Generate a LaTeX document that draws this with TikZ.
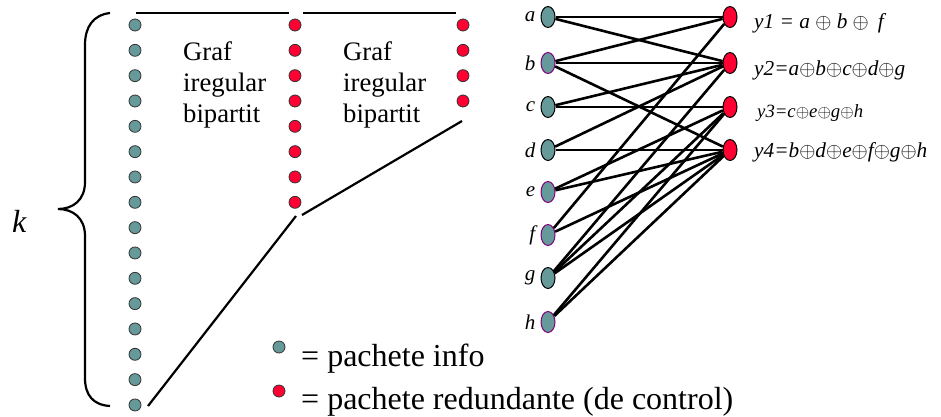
\documentclass[tikz,border=0pt]{standalone}
\usepackage{fontspec}
\setmainfont{Liberation Serif}
\usetikzlibrary{shapes.geometric,positioning}
\definecolor{tealdot}{HTML}{669999}
\definecolor{reddot}{HTML}{FF0033}
\definecolor{purp}{HTML}{800080}
\begin{document}
\begin{tikzpicture}[x=1pt,y=-1pt,
  info/.style={circle,draw=black!80,fill=tealdot,line width=0.8pt,minimum size=12pt,inner sep=0pt},
  redund/.style={circle,draw=black!80,fill=reddot,line width=0.8pt,minimum size=12pt,inner sep=0pt},
  tnode/.style={ellipse,fill=tealdot,draw=black,line width=1pt,minimum width=14pt,minimum height=21pt,inner sep=0pt},
  pnode/.style={tnode,draw=purp},
  rnode/.style={ellipse,fill=reddot,draw=black,line width=1pt,minimum width=14pt,minimum height=21pt,inner sep=0pt},
  lbl/.style={font=\fontsize{21}{24}\selectfont\itshape,inner sep=0pt},
  eqn/.style={font=\fontsize{21.3}{24}\selectfont\itshape,inner sep=0pt,anchor=base west},
  edge/.style={line width=2.6pt},
  thin line/.style={line width=2.2pt},
  graftext/.style={font=\fontsize{26.7}{31}\selectfont,align=left,anchor=base west,inner sep=0pt}
]
\useasboundingbox (0,0) rectangle (941,416);

% left column of info packets
\foreach \i in {0,...,15} \node[info] (L\i) at (135,{25+25.33*\i}) {};
% first redundant column
\foreach \i in {0,...,7} \node[redund] (M\i) at (295,{25+25.33*\i}) {};
% second redundant column
\foreach \i in {0,...,3} \node[redund] (R\i) at (463,{25+25.33*\i}) {};

% top lines
\coordinate (t1a) at (136,12.7); \coordinate (t1b) at (289,12.7);
\coordinate (t2a) at (303,12.7); \coordinate (t2b) at (456,12.7);
\draw[thin line] (t1a) -- (t1b);
\draw[thin line] (t2a) -- (t2b);
% slanted lines
\coordinate (s1a) at (462,121); \coordinate (s1b) at (302,215);
\coordinate (s2a) at (296,216); \coordinate (s2b) at (148,406);
\draw[thin line] (s1a) -- (s1b);
\draw[thin line] (s2a) -- (s2b);

% texts
\node[graftext] (g1) at (183,122) {Graf\\iregular\\bipartit};
\node[graftext] (g2) at (343,122) {Graf\\iregular\\bipartit};

% brace
\draw[line width=2.2pt] (110,13) .. controls (93,15) and (85,27) .. (85,45) -- (85,182)
  .. controls (85,200) and (73,209) .. (58,209)
  .. controls (73,209) and (85,218) .. (85,236) -- (85,378)
  .. controls (85,395) and (93,405) .. (110,406);
\node[font=\fontsize{32}{36}\selectfont\itshape,anchor=base west,inner sep=0pt] (k) at (12,232) {k};

% legend
\node[info] (leg1) at (279,347) {};
\node[redund] (leg2) at (279,391) {};
\node[font=\fontsize{32}{36}\selectfont,anchor=base west,inner sep=0pt] (legt1) at (301,366) {= pachete info};
\node[font=\fontsize{32}{36}\selectfont,anchor=base west,inner sep=0pt] (legt2) at (301,409) {= pachete redundante (de control)};

% right bipartite graph
\node[tnode] (a) at (548,17) {};
\node[pnode] (b) at (548,63) {};
\node[tnode] (c) at (548,107) {};
\node[tnode] (d) at (548,150) {};
\node[pnode] (e) at (548,192) {};
\node[pnode] (f) at (548,235) {};
\node[tnode] (g) at (548,278) {};
\node[pnode] (h) at (548,322) {};
\foreach \n in {a,b,c,d,e,f,g,h} \node[lbl,left=5pt of \n] (lab\n) {\n};

\node[rnode] (y1) at (730,17) {};
\node[rnode] (y2) at (730,63) {};
\node[rnode] (y3) at (730,107) {};
\node[rnode] (y4) at (730,150) {};

\foreach \s/\t in {a/y1,a/y2,b/y1,b/y2,b/y4,c/y2,c/y3,d/y2,d/y4,e/y3,e/y4,f/y1,f/y4,g/y2,g/y3,g/y4,h/y3,h/y4}
  \draw[edge] (\s) -- (\t);

\node[eqn] (eq1) at (754,28) {y1 = a {$\oplus$} b {$\oplus$}\, f};
\node[eqn] (eq2) at (754,75) {y2=a{$\oplus$}b{$\oplus$}c{$\oplus$}d{$\oplus$}g};
\node[eqn,font=\fontsize{18.7}{22}\selectfont\itshape] (eq3) at (757,117) {y3=c{$\oplus$}e{$\oplus$}g{$\oplus$}h};
\node[eqn] (eq4) at (754,157) {y4=b{$\oplus$}d{$\oplus$}e{$\oplus$}f{$\oplus$}g{$\oplus$}h};
\end{tikzpicture}
\end{document}
